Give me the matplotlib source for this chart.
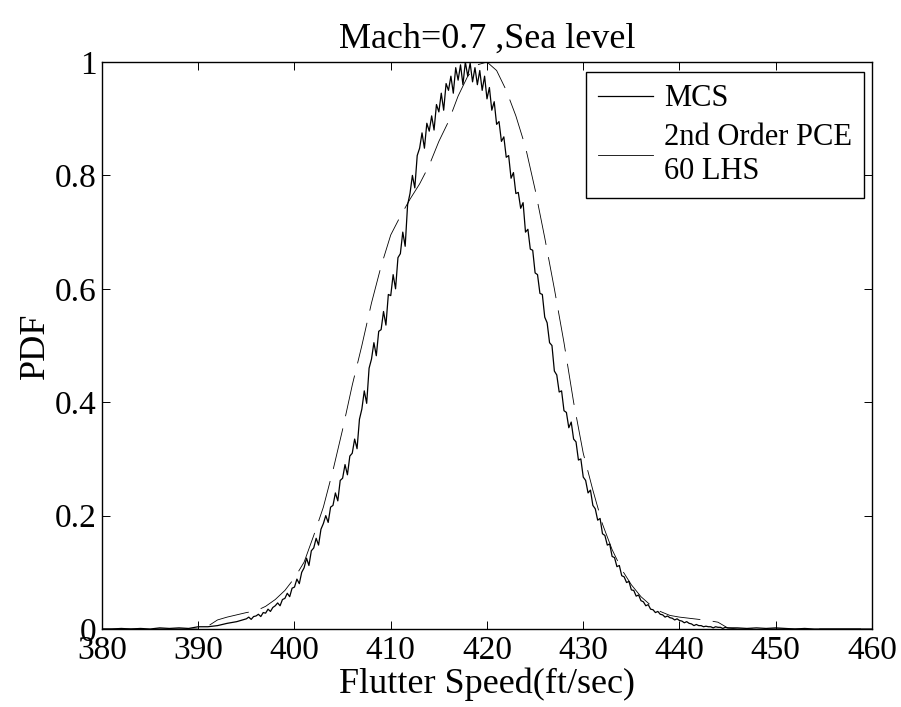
import numpy as np
import matplotlib
matplotlib.use('Agg')
from matplotlib import pyplot as plt
from matplotlib.lines import Line2D

plt.rcParams['font.family'] = ['Liberation Serif', 'DejaVu Serif']
plt.rcParams['lines.scale_dashes'] = False

# MCS histogram pdf: coarse tails, fine core (0.25 ft/sec bins)
mcs_left_speed = list(range(380, 395))
mcs_left_pdf = [0.000, 0.000, 0.001, 0.000, 0.001, 0.000, 0.002, 0.001,
                0.002, 0.001, 0.004, 0.004, 0.006, 0.010, 0.013]
mcs_core_pdf = [0.018,
    0.021, 0.017, 0.022, 0.023,   0.026, 0.022, 0.029, 0.028,
    0.035, 0.031, 0.038, 0.041,   0.046, 0.041, 0.052, 0.054,
    0.063, 0.057, 0.072, 0.074,   0.088, 0.080, 0.100, 0.108,
    0.125, 0.112, 0.138, 0.143,   0.160, 0.148, 0.176, 0.186,
    0.200, 0.188, 0.215, 0.218,   0.240, 0.226, 0.262, 0.266,
    0.290, 0.272, 0.305, 0.310,   0.335, 0.318, 0.370, 0.388,
    0.420, 0.398, 0.460, 0.476,   0.505, 0.482, 0.525, 0.528,
    0.560, 0.536, 0.590, 0.588,   0.625, 0.600, 0.655, 0.662,
    0.700, 0.675, 0.748, 0.768,   0.800, 0.778, 0.835, 0.848,
    0.875, 0.848, 0.892, 0.878,   0.905, 0.880, 0.925, 0.912,
    0.945, 0.915, 0.962, 0.950,   0.975, 0.945, 0.990, 0.968,
    0.995, 0.960, 1.000, 0.975,   0.998, 0.965, 0.990, 0.960,
    0.985, 0.950, 0.975, 0.935,   0.955, 0.915, 0.930, 0.890,
    0.895, 0.860, 0.868, 0.832,   0.835, 0.795, 0.805, 0.768,
    0.770, 0.742, 0.752, 0.700,   0.705, 0.670, 0.668, 0.628,
    0.625, 0.592, 0.590, 0.550,   0.540, 0.505, 0.500, 0.455,
    0.448, 0.418, 0.420, 0.385,   0.382, 0.355, 0.365, 0.335,
    0.330, 0.298, 0.300, 0.268,   0.262, 0.240, 0.245, 0.218,
    0.212, 0.192, 0.195, 0.168,   0.165, 0.148, 0.150, 0.128,
    0.126, 0.110, 0.112, 0.094,   0.092, 0.082, 0.084, 0.069,
    0.068, 0.058, 0.060, 0.050,   0.048, 0.041, 0.043, 0.035,
    0.034, 0.029, 0.031, 0.026,   0.025, 0.021, 0.023, 0.020,
    0.019, 0.016, 0.018, 0.015,   0.014, 0.011, 0.013, 0.010,
    0.009, 0.006, 0.008, 0.006,   0.006, 0.004, 0.005, 0.004,
    0.004, 0.002, 0.004, 0.003,   0.003, 0.001, 0.003, 0.002]
mcs_right_speed = list(range(446, 461))
mcs_right_pdf = [0.002, 0.001, 0.002, 0.001, 0.002, 0.001, 0.000, 0.001,
                 0.000, 0.000, 0.000, 0.000, 0.000, 0.000, 0.000]

# 2nd order PCE surrogate, 60 LHS samples
pce_speed = list(range(380, 461))
pce_pdf = [0]*11 + [
    0.005, 0.016, 0.021, 0.025, 0.029, 0.032, 0.040, 0.052, 0.068, 0.090,
    0.118, 0.165, 0.215, 0.280, 0.352, 0.430, 0.500, 0.575, 0.640, 0.695,
    0.728, 0.758, 0.785, 0.818, 0.860, 0.895, 0.940, 0.975, 0.995, 1.000,
    0.985, 0.950, 0.905, 0.850, 0.775, 0.690, 0.600, 0.505, 0.400, 0.310,
    0.245, 0.185, 0.140, 0.105, 0.078, 0.057, 0.042, 0.031, 0.024, 0.021,
    0.019, 0.017, 0.015, 0.012, 0.002] + [0]*15

xticks = [380, 390, 400, 410, 420, 430, 440, 450, 460]
yticks = [0, 0.2, 0.4, 0.6, 0.8, 1]
ytick_labels = ['0', '0.2', '0.4', '0.6', '0.8', '1']

mcs_speed = np.concatenate([mcs_left_speed, np.arange(395, 445.01, 0.25), mcs_right_speed])
mcs_pdf = np.array(mcs_left_pdf + mcs_core_pdf + mcs_right_pdf)

fig = plt.figure(figsize=(9.01, 7.07), dpi=100)
ax = fig.add_axes([0.1132, 0.1103, 0.8546, 0.802])

mcs_line, = ax.plot(mcs_speed, mcs_pdf, color='k', lw=0.9)
ax.plot(pce_speed, pce_pdf, color='k', lw=0.6, dashes=(30, 9))

ax.set_xlim(380, 460)
ax.set_ylim(0, 1)
ax.set_xticks(xticks)
ax.set_yticks(yticks)
ax.set_yticklabels(ytick_labels)
ax.tick_params(direction='in', top=True, right=True, length=6, width=0.7,
               labelsize=24, pad=4)
ax.tick_params(axis='x', pad=5)
for s in ax.spines.values():
    s.set_linewidth(1.0)

ax.set_xlabel('Flutter Speed(ft/sec)', fontsize=26, labelpad=1)
ax.set_ylabel('PDF', fontsize=26, labelpad=2)
ax.set_title('Mach=0.7 ,Sea level', fontsize=26, pad=10)

# legend shows the PCE entry as a plain solid stroke
pce_handle = Line2D([], [], color='k', lw=0.6)
leg = ax.legend([mcs_line, pce_handle], ['MCS', '2nd Order PCE\n60 LHS'],
                loc='upper right', bbox_to_anchor=(0.9896, 0.982),
                borderaxespad=0, fontsize=22, fancybox=False, framealpha=1,
                edgecolor='k', handlelength=1.8, handletextpad=0.35,
                labelspacing=0.32, borderpad=0.4)
leg.get_frame().set_linewidth(1.0)

fig.savefig('out.png', dpi=100)
